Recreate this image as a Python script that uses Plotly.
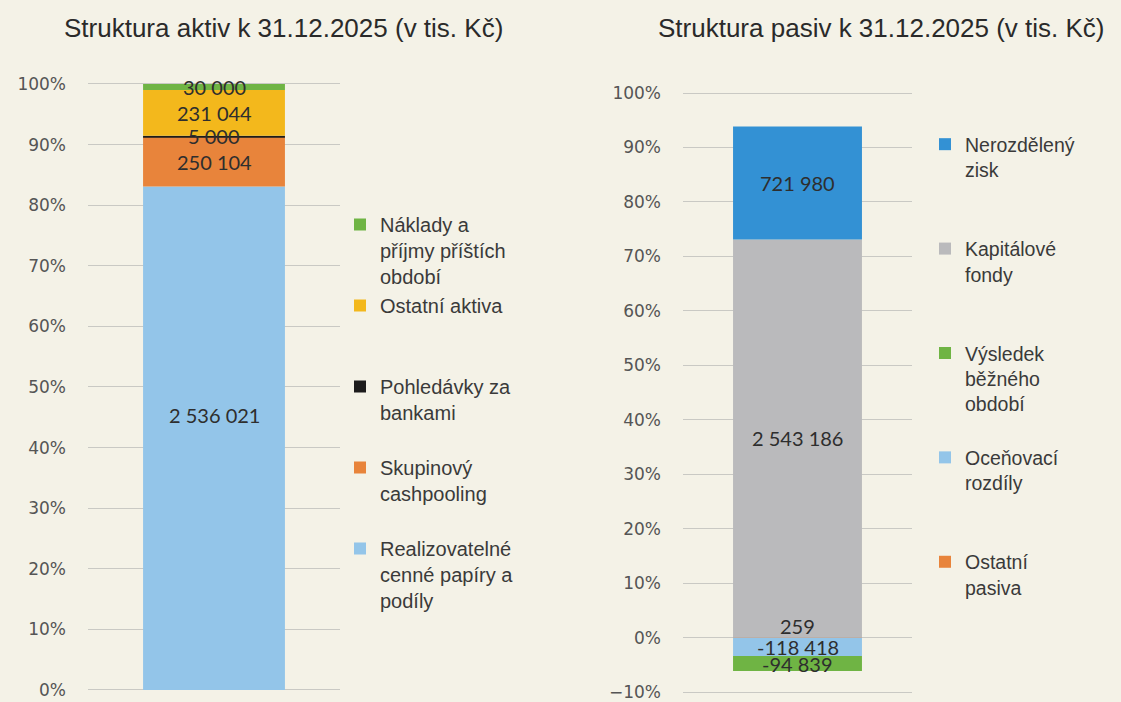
import plotly.graph_objects as go

# ---------------- data ----------------
category = ["31.12.2025"]

aktiva_names = [
    "Realizovatelné<br>cenné papíry a<br>podíly",
    "Skupinový<br>cashpooling",
    "Pohledávky za<br>bankami",
    "Ostatní aktiva",
    "Náklady a<br>příjmy příštích<br>období",
]
aktiva_values = [2536021, 250104, 5000, 231044, 30000]

pasiva_names = [
    "Ostatní<br>pasiva",
    "Oceňovací<br>rozdíly",
    "Výsledek<br>běžného<br>období",
    "Kapitálové<br>fondy",
    "Nerozdělený<br>zisk",
]
pasiva_values = [259, -118418, -94839, 2543186, 721980]

aktiva_ticks = [0, 0.1, 0.2, 0.3, 0.4, 0.5, 0.6, 0.7, 0.8, 0.9, 1.0]
pasiva_ticks = [-0.1, 0, 0.1, 0.2, 0.3, 0.4, 0.5, 0.6, 0.7, 0.8, 0.9, 1.0]

title_aktiva = "Struktura aktiv k 31.12.2025 (v tis. Kč)"
title_pasiva = "Struktura pasiv k 31.12.2025 (v tis. Kč)"

# ---------------- style ----------------
aktiva_colors = ["#93c5e9", "#e8843b", "#1c1c1c", "#f3b81c", "#6fb444"]
pasiva_colors = ["#e8843b", "#93c5e9", "#6fb444", "#bababc", "#3391d4"]
BG = "#f4f2e7"
GRID = "#c9c9c4"
LABEL_FONT = dict(family="Lato, Open Sans, sans-serif", size=20, color="#2e2e2e")
# labels that Excel moved away from their segment centre -> pixel offsets
label_shift = {("a", 0): 23, ("p", 0): 12}


def fmt(v):
    return f"{v:,}".replace(",", " ")


def pad(name, lines):
    n = name.count("<br>") + 1
    return name + "<br> " * (lines - n)


fig = go.Figure()
annotations = []

tot_a = sum(abs(v) for v in aktiva_values)
cum = 0.0
for i, (nm, v, c) in enumerate(zip(aktiva_names, aktiva_values, aktiva_colors)):
    share = v / tot_a
    fig.add_trace(go.Bar(
        x=category, y=[share], name=pad(nm, 3), marker=dict(color=c, line=dict(width=0)),
        xaxis="x", yaxis="y", legend="legend", hoverinfo="skip",
    ))
    annotations.append(dict(x=category[0], y=cum + share / 2, xref="x", yref="y",
                            text=fmt(v), showarrow=False, font=LABEL_FONT,
                            yshift=label_shift.get(("a", i), 0)))
    cum += share

tot_p = sum(abs(v) for v in pasiva_values)
pos_cum, neg_cum = 0.0, 0.0
for i, (nm, v, c) in enumerate(zip(pasiva_names, pasiva_values, pasiva_colors)):
    share = v / tot_p
    fig.add_trace(go.Bar(
        x=category, y=[share], name=pad(nm, 4), marker=dict(color=c, line=dict(width=0)),
        xaxis="x2", yaxis="y2", legend="legend2", hoverinfo="skip",
    ))
    if share >= 0:
        mid = pos_cum + share / 2
        pos_cum += share
    else:
        mid = neg_cum + share / 2
        neg_cum += share
    annotations.append(dict(x=category[0], y=mid, xref="x2", yref="y2",
                            text=fmt(v), showarrow=False, font=LABEL_FONT,
                            yshift=label_shift.get(("p", i), 0)))

title_font = dict(family="Liberation Sans, Arial, sans-serif", size=26, color="#2a2a2a")
annotations.append(dict(x=283 / 1121, y=1 - 28 / 702, xref="paper", yref="paper",
                        text=title_aktiva, showarrow=False, xanchor="center", yanchor="middle",
                        font=title_font))
annotations.append(dict(x=881 / 1121, y=1 - 28 / 702, xref="paper", yref="paper",
                        text=title_pasiva, showarrow=False, xanchor="center", yanchor="middle",
                        font=title_font))

tickfont = dict(family="DejaVu Sans, sans-serif", size=17, color="#555555")
legend_font_a = dict(family="Liberation Sans, Arial, sans-serif", size=20, color="#3a3a3a")
legend_font_p = dict(family="Liberation Sans, Arial, sans-serif", size=19.5, color="#3a3a3a")

# y pixel positions: left 0% at 690, 100% at 84; right -10% at 692, 100% at 93
ya_lo, ya_hi = -0.002, 1.002
ya_px0 = 690 - (ya_lo - 0) * 606
ya_px1 = 690 - (ya_hi - 0) * 606
yp_lo, yp_hi = -0.102, 1.002
yp_px0 = 692 - (yp_lo + 0.1) * 544.5
yp_px1 = 692 - (yp_hi + 0.1) * 544.5

fig.update_layout(
    width=1121, height=702, autosize=False,
    margin=dict(l=0, r=0, t=0, b=0, pad=0, autoexpand=False),
    paper_bgcolor=BG, plot_bgcolor=BG,
    barmode="relative", bargap=0.437,
    showlegend=True,
    xaxis=dict(domain=[88 / 1121, 340 / 1121], range=[-0.5, 0.5], showticklabels=False,
               showgrid=False, zeroline=False, showline=False, automargin=False),
    yaxis=dict(domain=[(702 - ya_px0) / 702, (702 - ya_px1) / 702], range=[ya_lo, ya_hi],
               tickvals=aktiva_ticks, tickformat=".0%", showgrid=True, gridcolor=GRID,
               gridwidth=1, zeroline=False, tickfont=tickfont, ticklabelstandoff=21, ticks="",
               automargin=False),
    xaxis2=dict(domain=[683 / 1121, 912 / 1121], range=[-0.5, 0.5], showticklabels=False,
                showgrid=False, zeroline=False, showline=False, automargin=False),
    yaxis2=dict(domain=[(702 - yp_px0) / 702, (702 - yp_px1) / 702], range=[yp_lo, yp_hi],
                tickvals=pasiva_ticks, tickformat=".0%", showgrid=True, gridcolor=GRID,
                gridwidth=1, zeroline=False, tickfont=tickfont, ticklabelstandoff=21,
                ticks="", anchor="x2", automargin=False),
    legend=dict(x=340 / 1121, y=1 - 205 / 702, xanchor="left", yanchor="top",
                traceorder="reversed", valign="top", font=legend_font_a,
                bgcolor="rgba(0,0,0,0)"),
    legend2=dict(x=925 / 1121, y=1 - 125 / 702, xanchor="left", yanchor="top",
                 traceorder="reversed", valign="top", font=legend_font_p,
                 bgcolor="rgba(0,0,0,0)"),
    annotations=annotations,
)

fig.write_html(
    "out.html",
    config={"displayModeBar": False},
    post_script="document.body.style.margin='0';document.body.style.overflow='hidden';",
)
